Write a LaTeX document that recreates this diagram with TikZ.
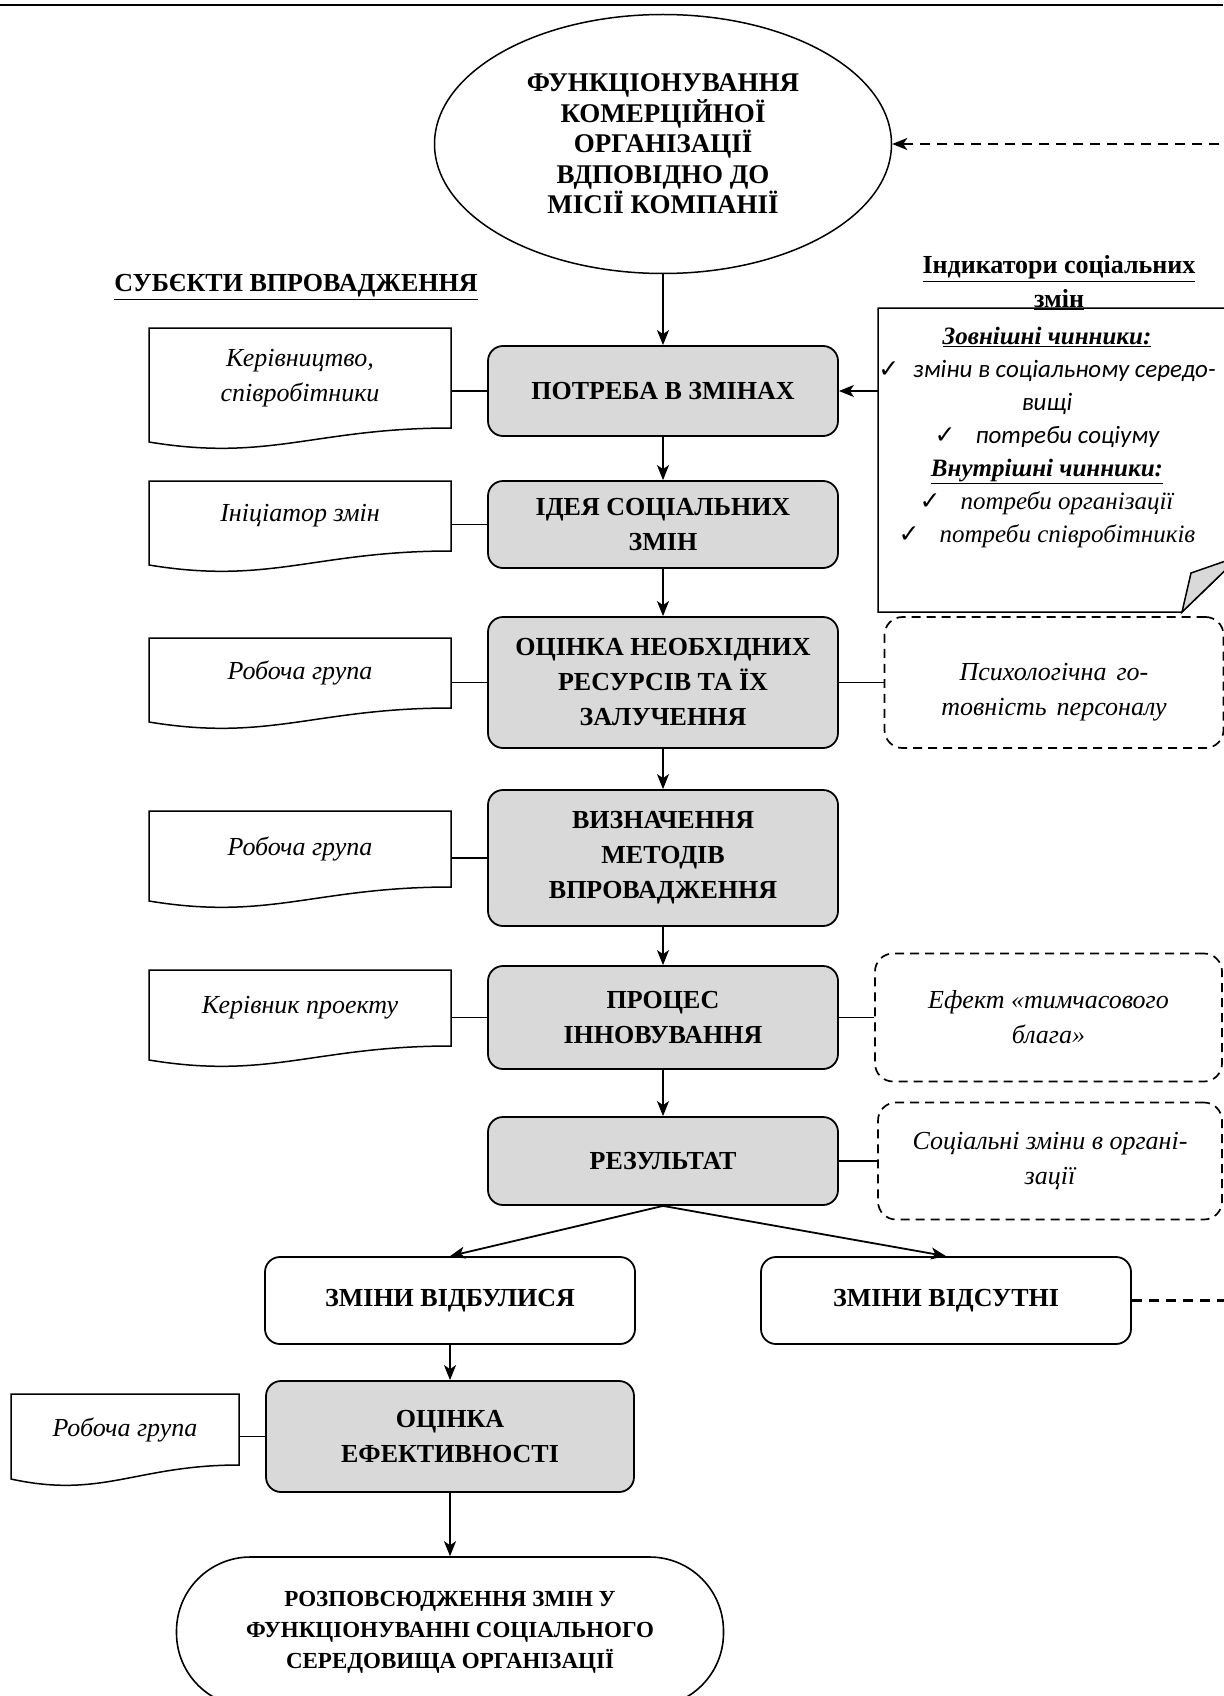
\documentclass[tikz,border=0pt]{standalone}
\usepackage{fontspec}
\setmainfont{Liberation Serif}
\newfontfamily\calibri{Carlito}
\newfontfamily\symb{DejaVu Sans}
\usepackage{tikz}
\usetikzlibrary{positioning, arrows.meta, calc, shapes.geometric}
\definecolor{boxgray}{HTML}{D9D9D9}

% wavy document outline round a node
\newcommand{\docshape}[1]{%
  \draw[docline] let \p1=(#1.north west), \p2=(#1.south east) in
    (\p1) -- (\x2,\y1) -- (\p2)
    .. controls ({\x1+0.55*(\x2-\x1)},\y2) and ({\x1+0.4*(\x2-\x1)},{\y2-34pt}) .. (\x1,{\y2-14pt}) -- cycle;}

\begin{document}
\begin{tikzpicture}[x=1pt, y=1pt, on grid,
    >={Stealth[length=15pt,width=12pt,inset=4pt]},
    stage/.style={draw, line width=1.8pt, rounded corners=15pt, fill=boxgray,
      minimum width=350pt, align=center, font=\fontsize{26pt}{35pt}\selectfont\bfseries},
    outcome/.style={stage, fill=white, minimum width=370pt},
    actor/.style={minimum width=302pt, inner sep=0pt, outer sep=0pt, align=center,
      font=\fontsize{26pt}{35pt}\selectfont\itshape},
    factor/.style={draw, dash pattern=on 9pt off 6pt, line width=1.7pt, rounded corners=18pt,
      align=center, font=\fontsize{26pt}{35pt}\selectfont\itshape},
    docline/.style={line width=1.5pt},
    flow/.style={->, line width=1.8pt},
    link/.style={line width=1.5pt}]
    \useasboundingbox (0,0) rectangle (1223,-1696);
    \draw[line width=2.5pt] (0,-5) -- (1223,-5);

    % main flow
    \node[ellipse, draw, line width=1.5pt, minimum width=457pt, minimum height=259pt, align=center,
      font=\fontsize{27pt}{30.5pt}\selectfont\bfseries] (ell) at (663,-144)
      {ФУНКЦІОНУВАННЯ\\КОМЕРЦІЙНОЇ\\ОРГАНІЗАЦІЇ\\ВДПОВІДНО ДО\\МІСІЇ КОМПАНІЇ};
    \node[stage, minimum height=90pt] (need) [below=247pt of ell] {ПОТРЕБА В ЗМІНАХ};
    \node[stage, minimum height=87pt] (idea) [below=133.5pt of need] {ІДЕЯ СОЦІАЛЬНИХ\\ЗМІН};
    \node[stage, minimum height=131pt] (res) [below=158pt of idea] {ОЦІНКА НЕОБХІДНИХ\\РЕСУРСІВ ТА ЇХ\\ЗАЛУЧЕННЯ};
    \node[stage, minimum height=136pt] (meth) [below=175.5pt of res] {ВИЗНАЧЕННЯ\\МЕТОДІВ\\ВПРОВАДЖЕННЯ};
    \node[stage, minimum height=103pt] (proc) [below=159.5pt of meth] {ПРОЦЕС\\ІННОВУВАННЯ};
    \node[stage, minimum height=88pt] (result) [below=143.5pt of proc] {РЕЗУЛЬТАТ};
    \node[outcome, minimum height=87pt] (done) [below left=139.5pt and 213pt of result] {ЗМІНИ ВІДБУЛИСЯ};
    \node[outcome, minimum height=87pt] (none) [below right=139.5pt and 283pt of result] {ЗМІНИ ВІДСУТНІ};
    \node[stage, minimum width=368pt, minimum height=111pt] (eff) [below=136pt of done] {ОЦІНКА\\ЕФЕКТИВНОСТІ};
    \node[draw, line width=1.6pt, rounded corners=74pt, minimum width=547pt, minimum height=150pt,
      align=center, font=\fontsize{23pt}{31pt}\selectfont\bfseries] (spread) [below=195.5pt of eff]
      {РОЗПОВСЮДЖЕННЯ ЗМІН У\\ФУНКЦІОНУВАННІ СОЦІАЛЬНОГО\\СЕРЕДОВИЩА ОРГАНІЗАЦІЇ};

    % headings
    \node[font=\fontsize{26pt}{31pt}\selectfont\bfseries] (subj) at (296,-287) {\underline{СУБЄКТИ ВПРОВАДЖЕННЯ}};
    \node[align=center, font=\fontsize{26pt}{34pt}\selectfont\bfseries] (ind) at (1059,-283)
      {\underline{Індикатори соціальних}\\\underline{змін}};

    % indicators
    \node[minimum width=362pt, minimum height=304pt, inner sep=0pt, outer sep=0pt] (note) at (1059,-460) {};
    \draw[docline] (note.north west) -- (note.north east) -- ([yshift=56pt]note.south east)
      -- ([xshift=-58pt]note.south east) -- (note.south west) -- cycle;
    \filldraw[docline, fill=boxgray] ([xshift=-58pt]note.south east) -- ([xshift=-49pt,yshift=39pt]note.south east)
      -- ([yshift=56pt]note.south east) -- cycle;
    \node[align=center, font=\fontsize{25pt}{33pt}\selectfont] (facts) at (1047,-437) {%
      \underline{\textbf{\textit{Зовнішні чинники:}}}\\
      {\symb ✓}\hspace{14pt}{\calibri\itshape зміни в соціальному середо-}\\
      {\calibri\itshape вищі}\\
      {\symb ✓}\hspace{20pt}{\calibri\itshape потреби соціуму}\\
      \underline{\textbf{\textit{Внутрішні чинники:}}}\\
      {\symb ✓}\hspace{20pt}\textit{потреби організації}\\
      {\symb ✓}\hspace{20pt}\textit{потреби співробітників}};

    % who does it
    \node[actor, minimum height=100pt] (staff) at (300,-378) {Керівництво,\\співробітники};
    \node[actor, minimum height=70pt] (init) at (300,-516) {Ініціатор змін};
    \node[actor, minimum height=70pt] (team1) at (300,-673) {Робоча група};
    \node[actor, minimum height=76pt] (team2) at (300,-849) {Робоча група};
    \node[actor, minimum height=76pt] (lead) at (300,-1008) {Керівник проекту};
    \node[actor, minimum width=228pt, minimum height=71pt] (team3) at (125,-1429.5) {Робоча група};
    \foreach \d in {staff, init, team1, team2, lead, team3} {\docshape{\d}}

    % side effects
    \node[factor, minimum width=339pt, minimum height=131pt, text height=72pt] (ready) [right=391pt of res]
      {Психологічна\hspace{10pt}го-\\товність\hspace{10pt}персоналу};
    \node[factor, minimum width=347pt, minimum height=128pt] (boon) [right=385.5pt of proc]
      {Ефект «тимчасового\\блага»};
    \node[factor, minimum width=344pt, minimum height=117pt] (social) [right=387pt of result]
      {Соціальні зміни в органі-\\зації};

    \path[flow]
    (ell) edge (need)
    (need) edge (idea)
    (idea) edge (res)
    (res) edge (meth)
    (meth) edge (proc)
    (proc) edge (result)
    (result.south) edge (done.north)
    (result.south) edge (none.north)
    (done.south) edge (eff.north)
    (eff.south) edge (spread.north)
    (note.west |- need.east) edge (need.east)
    ;
    \path[link]
    (staff.east |- need.west) edge (need.west)
    (init.east |- idea.west) edge (idea.west)
    (team1.east |- res.west) edge (res.west)
    (team2.east |- meth.west) edge (meth.west)
    (lead.east |- proc.west) edge (proc.west)
    (team3.east |- eff.west) edge (eff.west)
    (res) edge (ready)
    (proc) edge (boon)
    (result) edge (social)
    ;
    \draw[flow, line width=2.2pt, dash pattern=on 10pt off 7pt] (none.east) -- ++(120pt,0) |- (ell.east);
\end{tikzpicture}
\end{document}
